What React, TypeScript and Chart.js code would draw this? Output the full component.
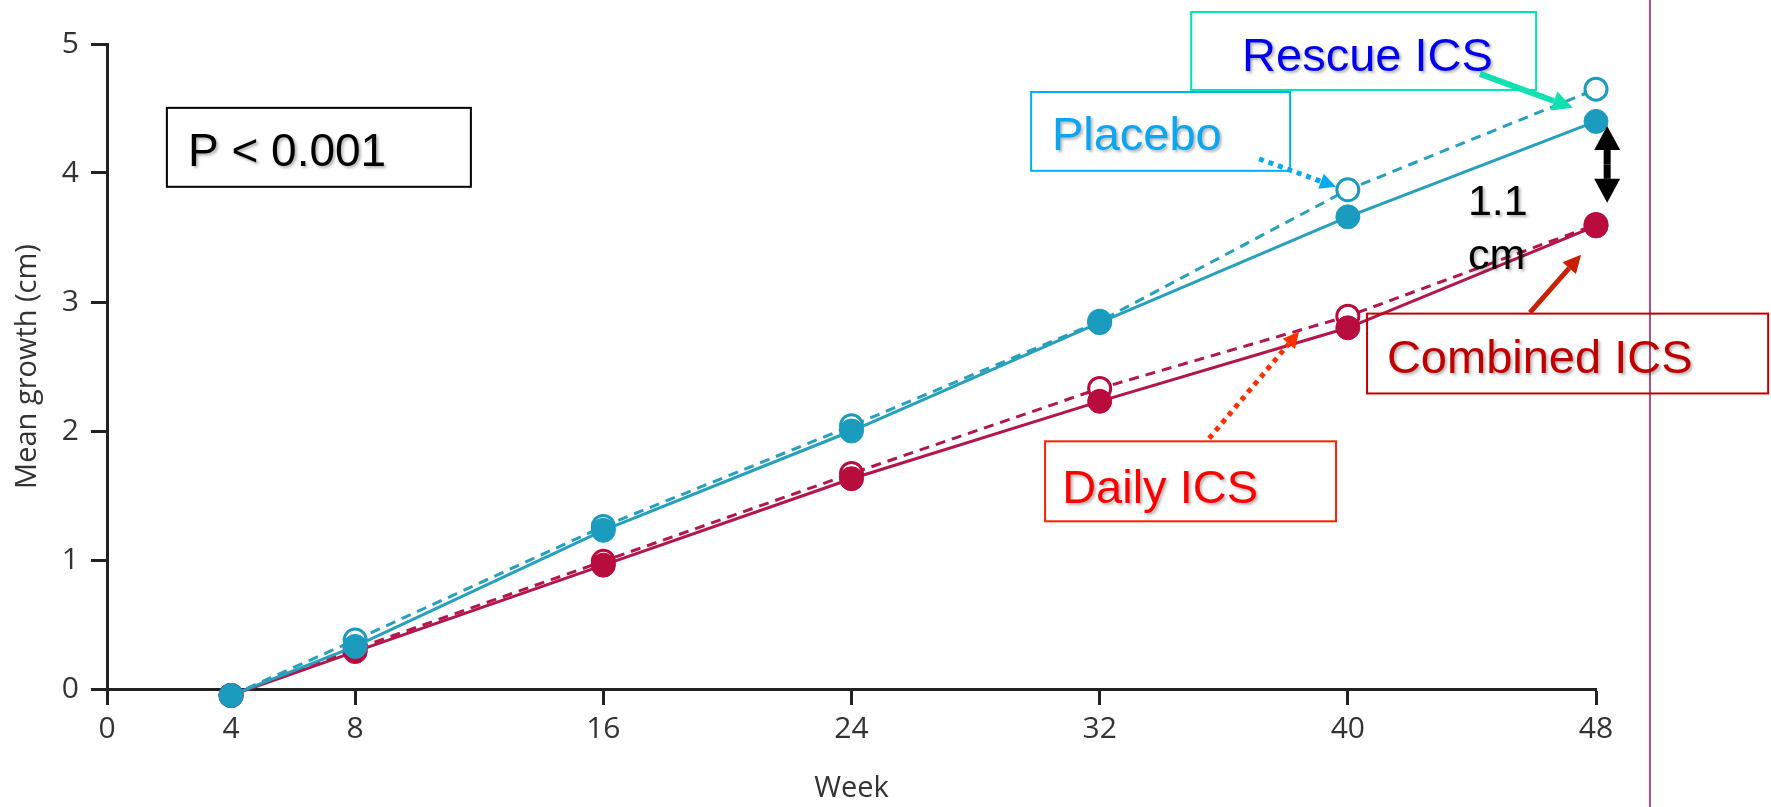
import React, { useEffect, useRef } from 'react';
import { Chart, registerables } from 'chart.js';

Chart.register(...registerables);

// ---- Data ----
const weeks = [4, 8, 16, 24, 32, 40, 48];
const xTickValues = [0, 4, 8, 16, 24, 32, 40, 48];
const yTickValues = [0, 1, 2, 3, 4, 5];

const rescueIcs = [-0.05, 0.33, 1.23, 2.0, 2.84, 3.66, 4.4];
const combinedIcs = [-0.05, 0.29, 0.96, 1.63, 2.23, 2.8, 3.59];
const placebo = [-0.05, 0.38, 1.26, 2.04, 2.85, 3.87, 4.65];
const dailyIcs = [-0.05, 0.31, 0.99, 1.67, 2.33, 2.89, 3.6];

const TEAL = '#1b9cbf';
const TEAL_LINE = '#26a0bc';
const CRIMSON = '#b80c3e';
const CRIMSON_LINE = '#b3164a';

const toPoints = (vals: number[]) => vals.map((v, i) => ({ x: weeks[i], y: v }));

// ---- Annotations (positions in data units: week, cm) ----
const boxes = [
  { text: 'P < 0.001', x0: 1.93, x1: 11.73, y0: 4.505, y1: 3.893, tx: 2.61, ty: 4.056, border: '#000000', color: '#000000', size: 46 },
  { text: 'Placebo', x0: 29.79, x1: 38.14, y0: 4.628, y1: 4.017, tx: 30.46, ty: 4.18, border: '#00b0f0', color: '#0aa6f2', size: 47 },
  { text: 'Rescue ICS', x0: 34.95, x1: 46.07, y0: 5.248, y1: 4.644, tx: 36.59, ty: 4.791, border: '#00e3b5', color: '#0000ee', size: 47 },
  { text: 'Combined ICS', x0: 40.62, x1: 53.55, y0: 2.91, y1: 2.291, tx: 41.26, ty: 2.446, border: '#c00000', color: '#c00000', size: 47 },
  { text: 'Daily ICS', x0: 30.24, x1: 39.62, y0: 1.92, y1: 1.3, tx: 30.79, ty: 1.44, border: '#ff2000', color: '#ff0000', size: 47 },
];
const freeTexts = [
  { text: '1.1', tx: 43.87, ty: 3.676, size: 43, color: '#000000' },
  { text: 'cm', tx: 43.87, ty: 3.259, size: 43, color: '#000000' },
];
const arrows = [
  { x1: 44.26, y1: 4.768, x2: 47.25, y2: 4.505, color: '#12e0b0', width: 6, dash: [] as number[], head: 20, headW: 20 },
  { x1: 37.14, y1: 4.11, x2: 39.62, y2: 3.893, color: '#0aa8f0', width: 5, dash: [5, 5], head: 16, headW: 16 },
  { x1: 45.87, y1: 2.918, x2: 47.52, y2: 3.367, color: '#c82000', width: 5, dash: [] as number[], head: 18, headW: 18 },
  { x1: 35.53, y1: 1.943, x2: 38.43, y2: 2.771, color: '#ff3000', width: 5, dash: [5, 5], head: 16, headW: 16 },
];
const doubleArrow = { x: 48.36, yTop: 4.365, yBottom: 3.769 };
const dividerWeek = 49.74;

function drawArrow(ctx: CanvasRenderingContext2D, x1: number, y1: number, x2: number, y2: number, color: string, width: number, dash: number[], headLen: number, headW: number) {
  const ang = Math.atan2(y2 - y1, x2 - x1);
  const bx = x2 - headLen * Math.cos(ang);
  const by = y2 - headLen * Math.sin(ang);
  ctx.strokeStyle = color;
  ctx.lineWidth = width;
  ctx.setLineDash(dash);
  ctx.beginPath();
  ctx.moveTo(x1, y1);
  ctx.lineTo(bx, by);
  ctx.stroke();
  ctx.setLineDash([]);
  ctx.fillStyle = color;
  ctx.beginPath();
  ctx.moveTo(x2, y2);
  ctx.lineTo(bx + (headW / 2) * Math.sin(ang), by - (headW / 2) * Math.cos(ang));
  ctx.lineTo(bx - (headW / 2) * Math.sin(ang), by + (headW / 2) * Math.cos(ang));
  ctx.closePath();
  ctx.fill();
}

const annotationPlugin = {
  id: 'annotations',
  afterDatasetsDraw(chart: any) {
    const { ctx } = chart;
    const X = (v: number) => chart.scales.x.getPixelForValue(v);
    const Y = (v: number) => chart.scales.y.getPixelForValue(v);
    ctx.save();

    // vertical divider
    ctx.strokeStyle = '#b0507f';
    ctx.lineWidth = 2;
    ctx.beginPath();
    ctx.moveTo(X(dividerWeek), 0);
    ctx.lineTo(X(dividerWeek), chart.height);
    ctx.stroke();

    // boxes with text
    for (const b of boxes) {
      ctx.lineWidth = 2;
      ctx.strokeStyle = b.border;
      ctx.strokeRect(X(b.x0), Y(b.y0), X(b.x1) - X(b.x0), Y(b.y1) - Y(b.y0));
      ctx.save();
      ctx.shadowColor = 'rgba(0,0,0,0.3)';
      ctx.shadowBlur = 3;
      ctx.shadowOffsetX = 2;
      ctx.shadowOffsetY = 2;
      ctx.fillStyle = b.color;
      ctx.font = `${b.size}px "Liberation Sans", Arial, sans-serif`;
      ctx.textBaseline = 'alphabetic';
      ctx.textAlign = 'left';
      ctx.fillText(b.text, X(b.tx), Y(b.ty));
      ctx.restore();
    }
    for (const t of freeTexts) {
      ctx.save();
      ctx.shadowColor = 'rgba(0,0,0,0.3)';
      ctx.shadowBlur = 3;
      ctx.shadowOffsetX = 2;
      ctx.shadowOffsetY = 2;
      ctx.fillStyle = t.color;
      ctx.font = `${t.size}px "Liberation Sans", Arial, sans-serif`;
      ctx.textBaseline = 'alphabetic';
      ctx.textAlign = 'left';
      ctx.fillText(t.text, X(t.tx), Y(t.ty));
      ctx.restore();
    }

    // arrows
    for (const a of arrows) {
      drawArrow(ctx, X(a.x1), Y(a.y1), X(a.x2), Y(a.y2), a.color, a.width, a.dash, a.head, a.headW);
    }
    const dx = X(doubleArrow.x);
    const midY = (Y(doubleArrow.yTop) + Y(doubleArrow.yBottom)) / 2;
    drawArrow(ctx, dx, midY, dx, Y(doubleArrow.yTop), '#000000', 7, [], 24, 26);
    drawArrow(ctx, dx, midY, dx, Y(doubleArrow.yBottom), '#000000', 7, [], 24, 26);

    ctx.restore();
  },
};

export default function App() {
  const canvasRef = useRef<HTMLCanvasElement | null>(null);

  useEffect(() => {
    document.body.style.margin = '0';
    const canvas = canvasRef.current;
    if (!canvas) return;
    const tickFont = { family: '"Open Sans", "Noto Sans", sans-serif', size: 30 };
    const titleFont = { family: '"Open Sans", "Noto Sans", sans-serif', size: 29 };
    const chart = new Chart(canvas, {
      type: 'line',
      data: {
        datasets: [
          {
            label: 'Rescue ICS',
            data: toPoints(rescueIcs),
            borderColor: TEAL_LINE,
            backgroundColor: TEAL,
            pointBackgroundColor: TEAL,
            pointBorderColor: TEAL,
            pointRadius: 12,
            pointBorderWidth: 1,
            borderWidth: 3,
            clip: false,
          },
          {
            label: 'Combined ICS',
            data: toPoints(combinedIcs),
            borderColor: CRIMSON_LINE,
            backgroundColor: CRIMSON,
            pointBackgroundColor: CRIMSON,
            pointBorderColor: CRIMSON,
            pointRadius: 12,
            pointBorderWidth: 1,
            borderWidth: 3,
            clip: false,
          },
          {
            label: 'Placebo',
            data: toPoints(placebo),
            borderColor: TEAL_LINE,
            borderDash: [10, 7],
            pointBackgroundColor: '#ffffff',
            pointBorderColor: TEAL,
            pointRadius: 11,
            pointBorderWidth: 3,
            borderWidth: 3,
            clip: false,
          },
          {
            label: 'Daily ICS',
            data: toPoints(dailyIcs),
            borderColor: CRIMSON_LINE,
            borderDash: [10, 7],
            pointBackgroundColor: '#ffffff',
            pointBorderColor: CRIMSON,
            pointRadius: 11,
            pointBorderWidth: 3,
            borderWidth: 3,
            clip: false,
          },
        ],
      },
      options: {
        animation: false,
        responsive: true,
        maintainAspectRatio: false,
        layout: { padding: { left: 0, right: 175, top: 44, bottom: 0 } },
        plugins: { legend: { display: false }, tooltip: { enabled: false } },
        events: [],
        scales: {
          x: {
            type: 'linear',
            min: 0,
            max: 48,
            afterBuildTicks: (scale: any) => {
              scale.ticks = xTickValues.map((v) => ({ value: v }));
            },
            afterFit: (scale: any) => {
              scale.height = 118;
            },
            grid: { drawOnChartArea: false, drawTicks: true, tickLength: 16, tickWidth: 3, tickColor: '#222', color: '#222' },
            border: { display: true, color: '#222', width: 3 },
            ticks: { font: tickFont, color: '#333', padding: 6, maxRotation: 0, autoSkip: false },
            title: { display: true, text: 'Week', font: titleFont, color: '#333', padding: { top: 0, bottom: 1 } },
          },
          y: {
            type: 'linear',
            min: 0,
            max: 5,
            afterBuildTicks: (scale: any) => {
              scale.ticks = yTickValues.map((v) => ({ value: v }));
            },
            afterFit: (scale: any) => {
              scale.width = 107;
            },
            grid: { drawOnChartArea: false, drawTicks: true, tickLength: 16, tickWidth: 3, tickColor: '#222', color: '#222' },
            border: { display: true, color: '#222', width: 3 },
            ticks: { font: tickFont, color: '#333', padding: 12 },
            title: { display: true, text: 'Mean growth (cm)', font: titleFont, color: '#333', padding: { top: 10, bottom: 0 } },
          },
        },
      },
      plugins: [annotationPlugin],
    });
    return () => chart.destroy();
  }, []);

  return (
    <div style={{ position: 'absolute', left: 0, top: 0, width: '1771px', height: '807px', background: '#ffffff' }}>
      <canvas ref={canvasRef} />
    </div>
  );
}
